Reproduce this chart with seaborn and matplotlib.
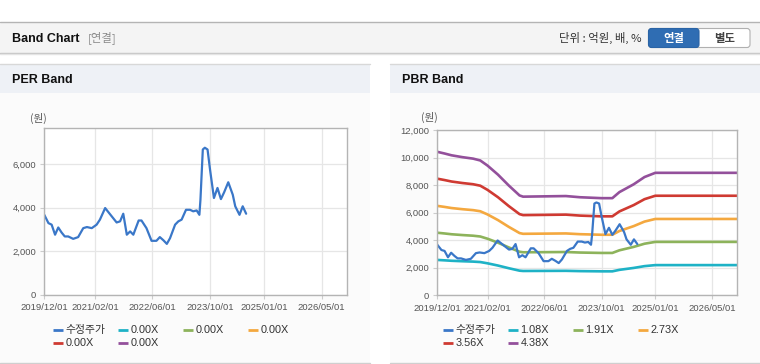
import matplotlib
matplotlib.use("Agg")
import matplotlib.pyplot as plt
import matplotlib.dates as mdates
from matplotlib.patches import Rectangle, FancyBboxPatch
import pandas as pd
import seaborn as sns

# ---------------- data ----------------
price_label = "수정주가"
price_dates = [
    "2019-12-01", "2020-01-05", "2020-02-01", "2020-03-01", "2020-03-28", "2020-04-25",
    "2020-05-22", "2020-06-20", "2020-08-01", "2020-09-12", "2020-10-25", "2020-11-25",
    "2021-01-05", "2021-02-15", "2021-03-15", "2021-04-28", "2021-06-05", "2021-08-03",
    "2021-09-01", "2021-09-28", "2021-10-28", "2021-11-25", "2021-12-22", "2022-02-05",
    "2022-03-01", "2022-04-12", "2022-05-25", "2022-07-05", "2022-08-03", "2022-09-03",
    "2022-10-01", "2022-10-28", "2022-12-10", "2023-01-06", "2023-02-03", "2023-03-12",
    "2023-04-15", "2023-05-12", "2023-06-10", "2023-07-03", "2023-07-12", "2023-08-01",
    "2023-08-18", "2023-09-10", "2023-10-01", "2023-11-03", "2023-12-03", "2024-01-01",
    "2024-01-28", "2024-03-03", "2024-04-10", "2024-05-01", "2024-06-06", "2024-07-03",
    "2024-08-01",
]
price_values = [
    3670, 3290, 3220, 2760, 3090, 2860,
    2680, 2680, 2570, 2650, 3060, 3110,
    3060, 3220, 3450, 3980, 3720, 3320,
    3370, 3720, 2760, 2910, 2760, 3410,
    3410, 3060, 2480, 2480, 2650, 2500,
    2340, 2600, 3220, 3370, 3450, 3900,
    3900, 3830, 3870, 3670, 4360, 6660,
    6740, 6660, 5740, 4440, 4900, 4390,
    4700, 5160, 4590, 4060, 3670, 4060,
    3720,
]

band_dates = [
    "2019-12-01", "2020-02-01", "2020-04-01", "2020-07-01", "2020-10-01", "2020-12-01",
    "2021-02-01", "2021-05-01", "2021-08-01", "2021-11-01", "2021-12-01", "2022-06-01",
    "2022-12-01", "2023-04-01", "2023-10-01", "2024-01-01", "2024-03-01", "2024-07-01",
    "2024-10-01", "2025-01-01", "2026-12-01",
]
band_108 = [2568, 2538, 2506, 2473, 2446, 2414, 2322, 2160, 1966, 1787, 1766, 1771,
            1777, 1755, 1739, 1739, 1847, 1987, 2117, 2192, 2192]
band_191 = [4542, 4489, 4431, 4374, 4326, 4269, 4107, 3820, 3476, 3161, 3123, 3132,
            3142, 3104, 3075, 3075, 3266, 3514, 3744, 3877, 3877]
band_273 = [6492, 6416, 6334, 6252, 6183, 6102, 5870, 5460, 4969, 4518, 4464, 4477,
            4491, 4436, 4395, 4395, 4668, 5023, 5351, 5542, 5542]
band_356 = [8466, 8366, 8259, 8152, 8063, 7957, 7654, 7120, 6479, 5892, 5821, 5838,
            5856, 5785, 5732, 5732, 6088, 6550, 6978, 7227, 7227]
band_438 = [10416, 10293, 10162, 10030, 9921, 9789, 9417, 8760, 7972, 7249, 7161, 7183,
            7205, 7118, 7052, 7052, 7490, 8059, 8585, 8891, 8891]
pbr_labels = ["1.08X", "1.91X", "2.73X", "3.56X", "4.38X"]
per_labels = ["0.00X", "0.00X", "0.00X", "0.00X", "0.00X"]

x_ticks = ["2019-12-01", "2021-02-01", "2022-06-01", "2023-10-01", "2025-01-01", "2026-05-01"]
x_range = ["2019-12-01", "2026-12-01"]
per_yticks = [0, 2000, 4000, 6000]
per_ymax = 7630
pbr_yticks = [0, 2000, 4000, 6000, 8000, 10000, 12000]
pbr_ymax = 12000

# ---------------- style ----------------
price_color = "#3a77c8"
band_colors = ["#1eb2c6", "#8db35b", "#f4a83f", "#cf3a32", "#93509b"]

sns.set_theme(style="white")
plt.rcParams["font.family"] = ["Liberation Sans", "Noto Sans CJK KR", "DejaVu Sans"]
KR = ["Noto Sans CJK KR", "DejaVu Sans"]
TITLE = ["Liberation Sans", "DejaVu Sans"]

fig = plt.figure(figsize=(7.6, 3.64), dpi=100)
fig.patch.set_facecolor("white")

bg = fig.add_axes([0, 0, 1, 1], zorder=0)
bg.set_xlim(0, 760)
bg.set_ylim(364, 0)
bg.axis("off")

# top header bar
bg.add_patch(Rectangle((0, 22), 760, 31, facecolor="#f4f4f4", edgecolor="none"))
bg.plot([0, 760], [22.3, 22.3], color="#b4b4b4", lw=1.0)
bg.plot([0, 760], [53, 53], color="#c4c4c4", lw=1.0)
bg.plot([0, 760], [54, 54], color="#e4e4e4", lw=1.0)
bg.text(11.5, 38.5, "Band Chart", fontsize=9.0, fontweight="bold", color="#111111",
        va="center", ha="left", family=TITLE)
bg.text(88, 38, "[연결]", fontsize=8.2, color="#8a8a8a", va="center", ha="left", family=KR)
bg.text(642, 38, "단위 : 억원, 배, %", fontsize=8.2, color="#333333", va="center",
        ha="right", family=KR)
bg.add_patch(FancyBboxPatch((648.5, 28.5), 101.5, 19, boxstyle="round,pad=0,rounding_size=3",
                            facecolor="white", edgecolor="#b0b0b0", lw=0.8))
bg.add_patch(FancyBboxPatch((648.5, 28.5), 50.5, 19, boxstyle="round,pad=0,rounding_size=3",
                            facecolor="#2f6db3", edgecolor="#2a64a6", lw=0.8))
bg.text(673.7, 38.3, "연결", fontsize=8.2, fontweight="bold", color="white",
        va="center", ha="center", family=KR)
bg.text(725, 38.3, "별도", fontsize=8.2, fontweight="bold", color="#444444",
        va="center", ha="center", family=KR)

# panels
for px, title in [(0, "PER Band"), (390, "PBR Band")]:
    bg.add_patch(Rectangle((px, 64), 370, 299, facecolor="#fbfbfb", edgecolor="none"))
    bg.add_patch(Rectangle((px, 64), 370, 29, facecolor="#eef1f6", edgecolor="none"))
    bg.plot([px, px + 370], [64.3, 64.3], color="#d8d8d8", lw=1.0)
    bg.plot([px, px + 370], [363.3, 363.3], color="#cfcfcf", lw=1.0)
    bg.text(px + 11.5, 80, title, fontsize=9.0, fontweight="bold", color="#111111",
            va="center", ha="left", family=TITLE)

bg.text(30, 118, "(원)", fontsize=7.6, color="#555555", va="center", ha="left", family=KR)
bg.text(421, 117, "(원)", fontsize=7.6, color="#555555", va="center", ha="left", family=KR)

price_df = pd.DataFrame({"date": pd.to_datetime(price_dates), "value": price_values})
band_df = pd.concat([
    pd.DataFrame({"date": pd.to_datetime(band_dates), "value": vals, "band": lab})
    for lab, vals in zip(pbr_labels, [band_108, band_191, band_273, band_356, band_438])
], ignore_index=True)


def style_axes(ax, yticks, ymax):
    ax.set_facecolor("white")
    ax.set_xlim(pd.to_datetime(x_range[0]), pd.to_datetime(x_range[1]))
    ax.set_ylim(0, ymax)
    ax.set_xticks(pd.to_datetime(x_ticks))
    ax.xaxis.set_major_formatter(mdates.DateFormatter("%Y/%m/%d"))
    ax.set_yticks(yticks)
    ax.set_yticklabels([f"{v:,}" for v in yticks])
    ax.grid(True, color="#e6e6e6", lw=0.9)
    ax.set_axisbelow(True)
    for s in ax.spines.values():
        s.set_color("#b4b4b4")
        s.set_linewidth(1.0)
        s.set_visible(True)
    ax.tick_params(axis="both", which="both", length=3, width=0.8, color="#cccccc",
                   labelsize=6.8, labelcolor="#555555", pad=3, direction="out",
                   bottom=True, left=True)
    ax.set_xlabel("")
    ax.set_ylabel("")


# PER chart
ax1 = fig.add_axes([44.3 / 760, (364 - 295) / 364, 302.7 / 760, 166.7 / 364], zorder=2)
sns.lineplot(data=price_df, x="date", y="value", ax=ax1, color=price_color,
             linewidth=1.6, estimator=None, legend=False)
style_axes(ax1, per_yticks, per_ymax)

# PBR chart
ax2 = fig.add_axes([437.3 / 760, (364 - 295.3) / 364, 300 / 760, 165.3 / 364], zorder=2)
sns.lineplot(data=band_df, x="date", y="value", hue="band", hue_order=pbr_labels,
             palette=dict(zip(pbr_labels, band_colors)), ax=ax2, linewidth=1.9,
             estimator=None, sort=False, legend=False)
sns.lineplot(data=price_df, x="date", y="value", ax=ax2, color=price_color,
             linewidth=1.6, estimator=None, legend=False)
style_axes(ax2, pbr_yticks, pbr_ymax)

# legends (fixed-width columns like the original)
for px, labels in [(0, per_labels), (390, pbr_labels)]:
    entries = [(price_label, price_color)] + list(zip(labels, band_colors))
    for i, (lab, col) in enumerate(entries):
        cx = px + 53 + (i % 4) * 65
        cy = 330 + (i // 4) * 13.3
        bg.plot([cx, cx + 9.5], [cy, cy], color=col, lw=2.0, solid_capstyle="butt")
        bg.text(cx + 12.5, cy, lab, fontsize=7.8, color="#333333", va="center",
                ha="left")

fig.savefig("out.png", dpi=100, facecolor="white")
